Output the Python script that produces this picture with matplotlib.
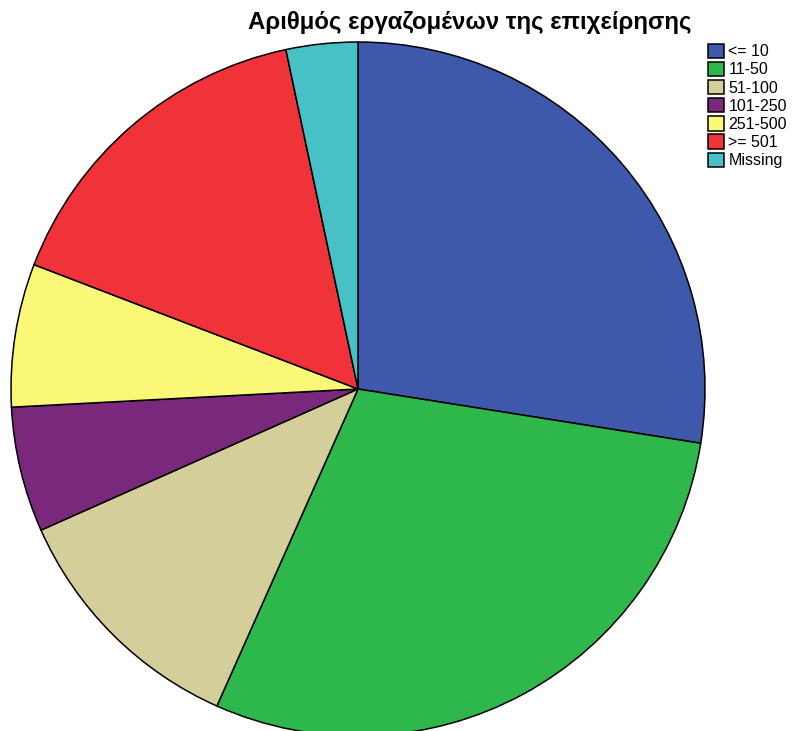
import matplotlib.pyplot as plt

plt.rcParams['font.family'] = ['Liberation Sans', 'DejaVu Sans']

# employee size bands and number of firms in each
categories = ['<= 10', '11-50', '51-100', '101-250', '251-500', '>= 501', 'Missing']
counts = [33, 35, 14, 7, 8, 19, 4]
colors = ['#3E58AC', '#2EB84B', '#D4CE9A', '#79287C', '#FBF777', '#EF3338', '#48C1C6']

W, H = 793, 731
fig = plt.figure(figsize=(W / 100, H / 100), dpi=100)

# pie sits a little past the bottom edge
left, top, size = 11, 42, 694
ax = fig.add_axes([left / W, (H - top - size) / H, size / W, size / H])

wedges, _ = ax.pie(counts, colors=colors, startangle=90, counterclock=False,
                   wedgeprops={'edgecolor': 'black', 'linewidth': 1.1})
ax.set_xlim(-1, 1)
ax.set_ylim(-1, 1)
ax.set_aspect('equal')
ax.axis('off')

fig.text(470 / W, 1 - 22 / H, 'Αριθμός εργαζομένων της επιχείρησης',
         ha='center', va='center', fontsize=17.3, fontweight='bold')

fig.legend(wedges, categories, loc='upper left', bbox_to_anchor=(706 / W, 1 - 42 / H),
           frameon=False, fontsize=11.5, handlelength=1.0, handleheight=1.0,
           handletextpad=0.3, labelspacing=0.16, borderaxespad=0, borderpad=0.1)

fig.savefig('out.png', dpi=100)
